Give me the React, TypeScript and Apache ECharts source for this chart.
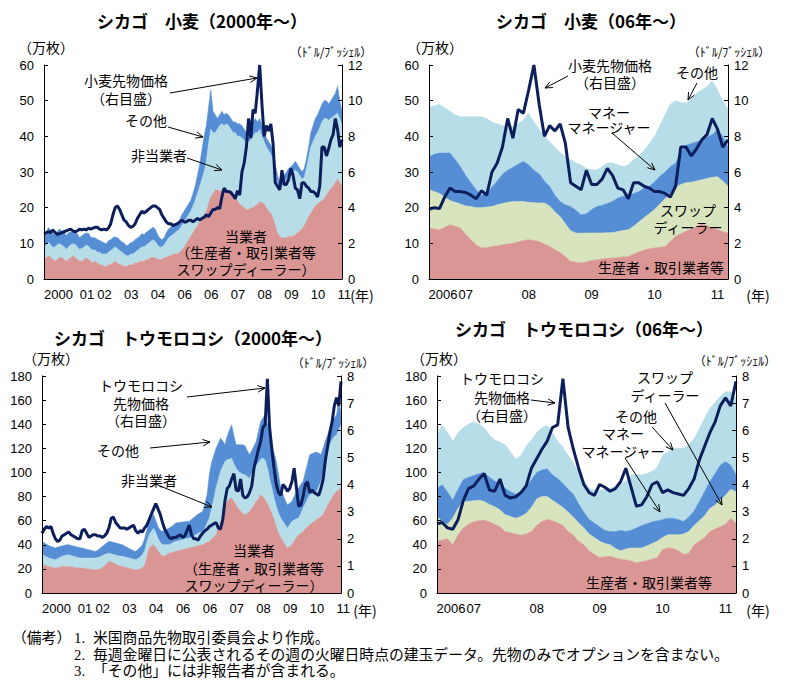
import React, { useEffect, useRef } from "react";
import * as echarts from "echarts";

// ---------- categories ----------
const monthRange = (y0: number, m0: number, y1: number, m1: number): string[] => {
  const out: string[] = [];
  let y = y0, m = m0;
  while (y < y1 || (y === y1 && m <= m1)) {
    out.push(`${y}-${String(m).padStart(2, "0")}`);
    m++;
    if (m > 12) { m = 1; y++; }
  }
  return out;
};
const months2000 = monthRange(2000, 1, 2011, 3);
const months06 = monthRange(2006, 6, 2011, 3);
const START06 = months2000.indexOf("2006-06");

// x tick labels (as printed in the source)
const yearLabels2000 = ["2000", "01", "02", "03", "04", "06", "06", "07", "08", "09", "10", "11"];
const yearLabels06 = ["2006", "07", "08", "09", "10", "11"];

// ---------- prices (ドル/ブッシェル), monthly 2000-01 .. 2011-03 ----------
const wheatPrice = [
  2.55, 2.6, 2.65, 2.6, 2.75, 2.6, 2.5, 2.55, 2.6, 2.65, 2.7, 2.75,
  2.8, 2.7, 2.65, 2.7, 2.8, 2.75, 2.8, 2.75, 2.85, 2.8, 2.85, 2.9,
  2.9, 2.8, 2.75, 2.8, 2.75, 2.85, 3.1, 3.6, 4.0, 4.1, 3.9, 3.6,
  3.3, 3.2, 3.0, 2.9, 2.95, 3.1, 3.4, 3.6, 3.8, 3.7, 3.8, 3.9,
  4.0, 4.1, 4.1, 4.0, 3.9, 3.6, 3.4, 3.2, 3.1, 3.1, 3.0, 3.05,
  3.1, 3.2, 3.3, 3.2, 3.2, 3.3, 3.3, 3.2, 3.3, 3.4, 3.3, 3.4,
  3.45, 3.6, 3.5, 3.7, 3.9, 3.9, 4.0, 3.95, 4.6, 5.1, 4.9, 4.9,
  4.85, 4.7, 4.5, 4.95, 4.7, 6.0, 6.5, 7.4, 9.0, 7.9, 9.5, 9.3,
  10.6, 12.0, 9.8, 8.0, 8.6, 8.3, 8.7, 7.6, 5.4, 5.2, 5.0, 6.1,
  5.3, 5.3, 5.6, 6.2, 5.8, 5.1, 5.0, 4.5, 5.4, 5.4, 5.2, 5.1,
  4.9, 4.9, 4.8, 4.6, 5.2, 7.4, 7.4, 6.9, 7.3, 7.8, 8.1, 9.0,
  8.4, 7.4, 7.8,
];
const cornPrice = [
  2.2, 2.35, 2.45, 2.4, 2.45, 2.2, 2.0, 1.9, 1.95, 2.1, 2.15, 2.2,
  2.25, 2.15, 2.1, 2.05, 2.0, 2.0, 2.3, 2.35, 2.2, 2.05, 2.1, 2.15,
  2.15, 2.1, 2.1, 2.05, 2.1, 2.2, 2.4, 2.75, 2.8, 2.6, 2.5, 2.4,
  2.4, 2.4, 2.35, 2.4, 2.45, 2.5, 2.3, 2.2, 2.3, 2.25, 2.4, 2.5,
  2.7, 2.9, 3.1, 3.3, 3.1, 2.9, 2.6, 2.35, 2.2, 2.05, 2.0, 2.05,
  2.05, 2.1, 2.15, 2.05, 2.1, 2.3, 2.5, 2.15, 2.0, 2.0, 1.95, 2.1,
  2.2, 2.3, 2.35, 2.45, 2.5, 2.55, 2.6, 2.4, 2.35, 2.7, 3.4, 3.85,
  3.95, 4.2, 4.4, 3.8, 3.75, 4.2, 3.6, 3.5, 3.55, 3.7, 3.95, 4.6,
  4.95, 5.3, 5.6, 6.1, 6.2, 7.9, 6.1, 5.3, 4.6, 4.0, 3.7, 3.6,
  4.0, 3.9, 3.75, 3.85, 4.1, 4.6, 3.9, 3.2, 3.25, 3.55, 4.0, 4.1,
  3.7, 3.8, 3.7, 3.65, 3.6, 3.85, 4.2, 4.9, 5.4, 5.9, 6.3, 6.9,
  7.2, 6.9, 7.8,
];

// ---------- wheat open interest (万枚), 2000 panel ----------
const wheatCommercial2000 = [
  5.5, 6, 6.5, 6, 5.5, 5, 5.5, 6, 6, 5.5, 5, 5.5,
  6, 6.5, 6, 5.5, 5, 5, 5.5, 6, 5.5, 5, 4.5, 5,
  4.5, 4, 4, 3.5, 3.5, 4, 4, 4.5, 5, 4.5, 4, 4,
  3.5, 3.5, 4, 4, 4, 4.5, 4.5, 5, 5, 5, 5.5, 5.5,
  6, 6, 6, 5.5, 5.5, 5.5, 6, 6, 6.5, 6.5, 7, 7,
  7, 7.5, 8, 9, 10, 11, 12, 13, 14, 15, 16, 17,
  18, 19, 21, 23, 24, 25, 25, 24.5, 25, 25.5, 25, 24.5,
  25, 24, 23, 22, 21, 20.5, 20, 19.5, 19.5, 20, 20, 20.5,
  21, 21.5, 21.5, 21, 20, 19, 18.5, 17, 15, 13, 12, 11.5,
  11.5, 11.5, 12, 12, 12, 12.5, 13, 13.5, 14, 15, 16, 17.5,
  18.5, 19.5, 20.5, 21, 21.5, 22, 22.5, 23.5, 24.5, 25.5, 26, 27,
  28, 27, 26,
];
const wheatNonCommercial2000 = [
  3.4, 3.6, 3.8, 3.5, 3.3, 4, 4.2, 3.9, 3.5, 3.6, 3.3, 3.5,
  3.6, 3.4, 3.7, 3.5, 3.3, 3.6, 3.4, 3.5, 3.7, 3.4, 3.6, 3.1,
  3, 3.5, 3, 3.5, 3.5, 3.5, 4, 4, 4, 4, 4, 3.5,
  3.5, 3, 2.5, 3, 3, 3, 3.5, 3.5, 4, 4, 4, 4.5,
  4.5, 5, 4.5, 4, 3.5, 3.5, 3.5, 4.5, 5, 5.5, 5.5, 6,
  6.5, 6.5, 7, 7, 7, 7, 7, 7.5, 8, 9, 10, 11,
  12, 14, 17, 19, 17, 16, 17, 18.5, 18.5, 17.5, 18.5, 18.5,
  17, 17, 18, 18, 19, 19, 19, 18.5, 19, 19, 20, 20.5,
  20, 20.5, 18.5, 17.5, 17, 17, 16.5, 16, 15, 14, 13, 14.5,
  15.5, 16.5, 17, 17.5, 18, 18, 17, 15.5, 14, 13.5, 15, 16.5,
  18.5, 19, 19.5, 20, 21, 22, 22.5, 21.5, 20, 19.5, 19.5, 19,
  18.5, 18, 17,
];
const wheatOther2000 = [
  3.6, 3.3, 4.1, 4.2, 3.8, 3.5, 3.7, 4.1, 3.9, 4.2, 3.8, 4,
  3.5, 3.8, 3.4, 3.6, 3.3, 3.5, 3.7, 3.4, 3.6, 3.3, 3.5, 3.4,
  3.6, 3.3, 3.5, 3.1, 2.9, 3.2, 3, 3.1, 2.8, 3.1, 3, 2.9,
  3.1, 2.8, 3, 3.2, 3.4, 3.6, 3.4, 3.5, 3.7, 3.4, 3.6, 3.5,
  3.5, 3.5, 3.5, 3, 2.5, 2, 2, 2.5, 2.5, 2.5, 2.5, 2,
  2, 2.5, 3, 3, 3, 3, 3, 3.5, 4, 5, 6, 8,
  10, 10, 10, 11, 6, 5, 3, 3, 3.5, 3, 3, 3,
  3, 3, 3, 3.5, 3.5, 3.5, 3, 3, 3.5, 4, 4, 4,
  3, 3, 3, 2.5, 2.5, 2.5, 2.5, 2.5, 2, 2, 2, 2,
  2, 2, 2, 2, 2, 2.5, 2, 2, 2, 2.5, 2.5, 3,
  4, 4.5, 5, 5, 5, 5, 5, 5, 4.5, 5, 5.5, 6,
  7.5, 5, 4,
];

// ---------- wheat open interest (万枚), 06 panel, 2006-06 .. 2011-03 ----------
const wheatProducer06 = [
  14.3, 14, 13.8, 14.5, 15.2, 14.8, 14.3,
  12.5, 11, 9.5, 8.7, 8.8, 9.1, 9.3, 9.6, 9.8, 10, 10.4, 10.8,
  11, 10.8, 10.5, 9.8, 9.2, 8.2, 7.4, 6.3, 5, 4.7, 4.5, 4.8,
  5.2, 5.4, 5.6, 5.8, 5.9, 6, 6.2, 6.3, 7, 7.6, 8.1, 8.5,
  8.7, 8.9, 9.1, 10.5, 12, 12.7, 13.4, 14, 14.7, 15.5, 15, 14.2,
  13.8, 13.3, 12.9,
];
const wheatSwap06 = [
  10.7, 10.5, 10.2, 8.5, 6.8, 6.7, 6.7,
  8, 9.3, 10.5, 11.3, 11.4, 11.2, 11.5, 11.6, 11.7, 11.7, 11.3, 10.9,
  10.5, 10.6, 10.8, 11.5, 11.3, 10.6, 10.1, 9.2, 8.5, 8.2, 8.3, 8.1,
  7.7, 7.5, 7.3, 7.2, 7.1, 7.3, 7.4, 7.5, 7.8, 8.4, 9.1, 9.8,
  10.8, 12.1, 13.4, 13.5, 13.7, 13.8, 13.6, 13.1, 12.8, 12.3, 13.2, 14.3,
  14.9, 14.2, 13.1,
];
const wheatManaged06 = [
  9.3, 10.5, 11.3, 12.3, 13.3, 12, 10.5,
  8.5, 6.7, 5, 3.5, 3.8, 5.5, 6.7, 8.2, 9, 9.6, 10.5, 11.3,
  10.5, 9.1, 8.2, 6.2, 5.5, 4.7, 4.2, 5.3, 6.8, 6.4, 5.2, 5.4,
  6.6, 7.4, 7.8, 8.2, 8.8, 9.4, 9.6, 9.8, 9.2, 8.5, 8.3, 7.7,
  7.7, 7.8, 7.5, 7.5, 6.8, 9, 10.5, 10.9, 11, 11.2, 11.6, 12,
  13.3, 12.5, 11,
];
const wheatOther06 = [
  14, 13.5, 13.7, 12.7, 11.7, 12.5, 14,
  16.5, 18.5, 20.5, 22, 21, 18.2, 16, 13.6, 12.2, 11.4, 11.3, 11.6,
  14.5, 13.5, 12.5, 12.5, 12.5, 13.5, 13.8, 13.5, 13.2, 13.2, 14, 12.7,
  11.1, 10.3, 10.8, 11.3, 10.7, 9.3, 8.3, 8.4, 9.5, 10, 10.5, 12,
  12.8, 14.2, 16, 17.5, 17.5, 14, 11.8, 12.5, 13.5, 14, 14.2, 15,
  11, 10, 10.4,
];

// ---------- corn open interest (万枚), 2000 panel ----------
const cornCommercial2000 = [
  23.5, 23, 22.5, 22, 21.5, 21, 20.7, 21, 21.5, 22, 22, 22,
  22, 21.5, 21.5, 21, 21, 20.7, 20.7, 20.5, 20, 20, 19.5, 19.5,
  19.3, 19.5, 20, 21, 22.5, 24, 26.2, 26, 25, 24, 23, 22.5,
  22, 21.5, 21, 20.5, 20, 19.5, 19.3, 19.5, 20, 20.7, 23, 30,
  37.3, 39, 40, 38, 35, 32.5, 30.4, 31, 32, 33, 33.5, 34,
  34.5, 35, 35.5, 36, 36.5, 37, 37.3, 37.8, 38.3, 38.8, 39.2, 39.6,
  40, 41, 42, 42.8, 45, 46.5, 48.3, 54, 59.4, 66, 73, 76,
  78, 78.7, 76, 73, 70, 68, 66, 65, 66, 67.6, 70, 73,
  76, 78, 81.4, 80, 77.3, 74, 70, 66, 61, 55, 50, 46,
  43, 40, 37.3, 38.5, 40, 43, 46, 48.3, 49.5, 51, 53, 55,
  56.6, 58, 59.5, 60.7, 62, 63.5, 65, 69, 72.5, 76, 79, 82,
  84.2, 85.5, 87,
];
const cornNonCommercial2000 = [
  8.2, 8, 7.5, 7, 7, 7, 6.9, 7.5, 8, 8.5, 9, 9.5,
  9.7, 9.5, 9, 9, 8.5, 8.3, 8.3, 8.5, 9, 9, 9.5, 9.5,
  9.7, 10, 10, 10, 9.5, 8.5, 6.8, 6.5, 7, 7.5, 8, 8.2,
  8.4, 8.5, 8.5, 8.5, 8.5, 8.5, 8.3, 9, 10, 11, 12, 12,
  11, 12, 13.8, 12, 10, 9.5, 9.6, 9, 8, 7, 7.5, 8,
  8.3, 8.3, 8.3, 8.3, 8.3, 8.2, 8.3, 8.7, 9.2, 9.7, 10.3, 10.7,
  11, 13, 16, 19.2, 25, 31.5, 38.7, 40, 41.4, 39, 36, 34.5,
  33, 33.1, 31, 30.5, 31, 31.5, 32.5, 33, 30.5, 27.4, 29, 29.5,
  30, 30, 29.6, 32, 32.7, 30, 25, 21, 18, 17, 16, 16,
  16.4, 16.5, 16.5, 18, 19.4, 17.5, 15.5, 13.7, 16.5, 19.4, 21, 23,
  24.8, 24.3, 23.7, 23.5, 26, 29, 35, 40, 43.5, 47, 48, 48,
  46.8, 49.5, 52.4,
];
const cornOther2000 = [
  11.1, 10.5, 10.5, 10.5, 10, 10, 9.7, 9.5, 9, 8.5, 8.5, 8.5,
  8.3, 8.5, 8.5, 8.5, 8.5, 8.5, 8.3, 7.8, 7.3, 6.8, 6.3, 5.8,
  5.5, 6, 7, 7.5, 8, 9, 9.8, 10, 10, 10, 10, 9.8,
  9.6, 9, 8.5, 8, 7.5, 7, 6.9, 7.5, 8, 8.3, 10, 10,
  11.1, 11, 11.2, 10, 10, 10, 11, 12, 13, 13.8, 14, 14.5,
  15.2, 15, 14.8, 14.6, 14.4, 14.2, 13.8, 14.5, 15, 15.5, 16, 16.2,
  16.6, 20, 23.4, 36, 38, 36, 33, 30, 27.6, 21, 14, 19.5,
  24, 27.6, 23, 19.5, 22, 23.5, 24.5, 24, 21.5, 19.6, 19, 19.5,
  19.6, 26, 31, 33, 37.7, 36, 36, 37, 37, 37, 32, 25,
  22, 20.5, 19.2, 18, 16.6, 19.5, 22.5, 25, 24, 22.1, 26, 29,
  33.2, 33.2, 33.1, 32.8, 28, 22.1, 20, 17, 15, 14, 15, 15,
  16.7, 23.7, 10.6,
];

// ---------- corn open interest (万枚), 06 panel ----------
const cornProducer06 = [
  42.8, 44, 45, 40, 48, 54, 57,
  59, 60, 60.5, 59, 57, 55, 51, 50, 49, 48, 49, 51,
  56, 59.5, 61, 60, 58, 56, 51, 48, 43, 40, 35, 32,
  29.5, 30, 30.4, 29, 28, 27.5, 26.5, 25, 26, 27, 28, 29.5,
  36, 37.3, 37, 35, 32, 33, 40, 43, 46, 51, 53, 55,
  57, 62, 58,
];
const cornSwap06 = [
  20.7, 15, 12, 22, 22, 22, 19,
  17.5, 17, 15.5, 14.5, 14.5, 14, 14, 13.5, 13, 15.5, 17, 20,
  22, 20.5, 19, 17, 16, 15, 16, 15, 15, 14, 14, 14,
  13.5, 11, 9.6, 8, 7, 9, 10.8, 12.3, 11.3, 12, 13, 13.5,
  10, 11, 11.3, 13.3, 17, 18, 16, 17, 18, 19, 20, 22,
  24, 24, 26,
];
const cornManaged06 = [
  23.5, 30.7, 27, 15, 16, 18, 20,
  21, 22, 24, 22.5, 21.5, 22, 22, 20.5, 20, 20.5, 22, 23,
  22, 22, 23, 21, 21, 20, 19, 19, 16, 13, 12, 12,
  12, 11, 11, 14, 17, 14.5, 14.7, 16.7, 18.7, 18.5, 18, 17,
  15, 13.7, 13.7, 12.7, 10.4, 12, 12, 16, 20, 22.5, 26, 29,
  28, 20, 14,
];
const cornOther06 = [
  44, 49.3, 49, 49, 47, 43, 44,
  44.5, 41, 37, 35, 34, 34, 36, 33, 29, 30, 34, 33,
  33, 35, 36, 35, 31, 30, 28, 26, 26, 26, 26, 27,
  30, 34, 36, 37, 37.7, 42, 46, 44, 42, 41.5, 42, 44,
  53, 55, 58, 59, 60.6, 60, 60, 60, 61, 60.5, 59, 57,
  58, 61, 63.5,
];

// ---------- styling ----------
const FJ = '"Noto Sans CJK JP", "Noto Sans", sans-serif';
const FN = '"Liberation Sans", Arial, sans-serif';
const FS = '"Liberation Serif", "Noto Sans CJK JP", serif';
const RED = "#d99694";
const LBLUE = "#b7dee8";
const MBLUE = "#558ed5";
const GREEN = "#d7e4bd";
const NAVY = "#0c1f5c";

const T = (
  text: string,
  x: number,
  y: number,
  size = 14,
  weight = "normal",
  align = "center",
  family = FJ,
  lineHeight?: number
) => ({
  type: "text",
  x,
  y,
  z: 100,
  silent: true,
  style: {
    text,
    fill: "#000",
    font: `${weight} ${size}px ${family}`,
    align,
    verticalAlign: "middle",
    textAlign: align,
    textVerticalAlign: "middle",
    ...(lineHeight ? { lineHeight } : {}),
  },
});
const M = (text: string, x: number, y: number, lineHeight: number, size = 14) =>
  T(text, x, y, size, "normal", "center", FJ, lineHeight);

const arrow = (x1: number, y1: number, x2: number, y2: number) => {
  const a = Math.atan2(y2 - y1, x2 - x1);
  const L = 8, w = 0.42;
  const p1 = [x2 - L * Math.cos(a - w), y2 - L * Math.sin(a - w)];
  const p2 = [x2 - L * Math.cos(a + w), y2 - L * Math.sin(a + w)];
  return [
    { type: "line", z: 100, silent: true, shape: { x1, y1, x2, y2 }, style: { stroke: "#000", lineWidth: 1 } },
    { type: "polyline", z: 100, silent: true, shape: { points: [p1, [x2, y2], p2] }, style: { stroke: "#000", lineWidth: 1, fill: null } },
  ];
};

const xAxis2000 = (gi: number) => ({
  type: "category",
  gridIndex: gi,
  data: months2000,
  boundaryGap: false,
  z: 10,
  axisLine: { show: true, lineStyle: { color: "#000", width: 1 } },
  axisTick: { show: false },
  splitLine: { show: false },
  axisLabel: {
    interval: 0,
    align: "left",
    margin: 9,
    color: "#000",
    fontSize: 13,
    fontFamily: FN,
    formatter: (v: string) => {
      if (!v.endsWith("-01")) return "";
      const y = Number(v.slice(0, 4));
      const t = yearLabels2000[y - 2000];
      return y === 2001 ? `{p|${t}}` : t;
    },
    rich: { p: { padding: [0, 0, 0, 9], fontSize: 13, fontFamily: FN, color: "#000" } },
  },
});

const xAxis06 = (gi: number) => ({
  type: "category",
  gridIndex: gi,
  data: months06,
  boundaryGap: false,
  z: 10,
  axisLine: { show: true, lineStyle: { color: "#000", width: 1 } },
  axisTick: { show: false },
  splitLine: { show: false },
  axisLabel: {
    interval: 0,
    margin: 9,
    color: "#000",
    fontSize: 13,
    fontFamily: FN,
    formatter: (v: string, i: number) => {
      if (i === 0) return `{s|${yearLabels06[0]}}`;
      if (!v.endsWith("-01")) return "";
      return yearLabels06[Number(v.slice(0, 4)) - 2006];
    },
    rich: { s: { padding: [0, 0, 0, 28], fontSize: 13, fontFamily: FN, color: "#000" } },
  },
});

const yAxis = (gi: number, max: number, interval: number, pos: "left" | "right") => ({
  type: "value",
  gridIndex: gi,
  position: pos,
  min: 0,
  max,
  interval,
  z: 10,
  axisLine: { show: true, lineStyle: { color: "#000", width: 1 } },
  axisTick: { show: true, inside: true, length: 4, lineStyle: { color: "#000" } },
  splitLine: { show: false },
  axisLabel: { margin: pos === "left" ? 10 : 6, color: "#000", fontSize: 13, fontFamily: FN },
});

const area = (name: string, data: number[], color: string, xi: number, yi: number, stack: string) => ({
  type: "line",
  name,
  data,
  xAxisIndex: xi,
  yAxisIndex: yi,
  stack,
  symbol: "none",
  showSymbol: false,
  silent: true,
  lineStyle: { width: 0.6, color },
  areaStyle: { color, opacity: 1 },
  z: 2,
});

const priceLine = (name: string, data: number[], xi: number, yi: number) => ({
  type: "line",
  name,
  data,
  xAxisIndex: xi,
  yAxisIndex: yi,
  symbol: "none",
  showSymbol: false,
  silent: true,
  lineStyle: { color: NAVY, width: 3 },
  z: 3,
});

const buildOption = () => ({
  animation: false,
  backgroundColor: "#fff",
  grid: [
    { left: 44, top: 65, width: 298, height: 214 },
    { left: 429, top: 65, width: 299, height: 214 },
    { left: 42, top: 376, width: 299, height: 217 },
    { left: 437, top: 376, width: 299, height: 217 },
  ],
  xAxis: [xAxis2000(0), xAxis06(1), xAxis2000(2), xAxis06(3)],
  yAxis: [
    yAxis(0, 60, 10, "left"),
    yAxis(0, 12, 2, "right"),
    yAxis(1, 60, 10, "left"),
    yAxis(1, 12, 2, "right"),
    yAxis(2, 180, 20, "left"),
    yAxis(2, 8, 1, "right"),
    yAxis(3, 180, 20, "left"),
    yAxis(3, 8, 1, "right"),
  ],
  series: [
    area("当業者", wheatCommercial2000, RED, 0, 0, "w00"),
    area("非当業者", wheatNonCommercial2000, LBLUE, 0, 0, "w00"),
    area("その他", wheatOther2000, MBLUE, 0, 0, "w00"),
    priceLine("小麦先物価格", wheatPrice, 0, 1),

    area("生産者・取引業者等", wheatProducer06, RED, 1, 2, "w06"),
    area("スワップディーラー", wheatSwap06, GREEN, 1, 2, "w06"),
    area("マネーマネージャー", wheatManaged06, MBLUE, 1, 2, "w06"),
    area("その他", wheatOther06, LBLUE, 1, 2, "w06"),
    priceLine("小麦先物価格", wheatPrice.slice(START06), 1, 3),

    area("当業者", cornCommercial2000, RED, 2, 4, "c00"),
    area("非当業者", cornNonCommercial2000, LBLUE, 2, 4, "c00"),
    area("その他", cornOther2000, MBLUE, 2, 4, "c00"),
    priceLine("トウモロコシ先物価格", cornPrice, 2, 5),

    area("生産者・取引業者等", cornProducer06, RED, 3, 6, "c06"),
    area("スワップディーラー", cornSwap06, GREEN, 3, 6, "c06"),
    area("マネーマネージャー", cornManaged06, MBLUE, 3, 6, "c06"),
    area("その他", cornOther06, LBLUE, 3, 6, "c06"),
    priceLine("トウモロコシ先物価格", cornPrice.slice(START06), 3, 7),
  ],
  graphic: {
    elements: [
      // titles
      T("シカゴ　小麦（2000年～）", 202, 20, 17, "bold"),
      T("シカゴ　小麦（06年～）", 591, 20, 17, "bold"),
      T("シカゴ　トウモロコシ（2000年～）", 193, 337, 17, "bold"),
      T("シカゴ　トウモロコシ（06年～）", 584, 328, 17, "bold"),
      // units
      T("（万枚）", 46, 47, 14),
      T("（ﾄﾞﾙ/ﾌﾞｯｼｪﾙ）", 331, 51, 12),
      T("（万枚）", 435, 47, 14),
      T("（ﾄﾞﾙ/ﾌﾞｯｼｪﾙ）", 729, 51, 12),
      T("（万枚）", 51, 358, 14),
      T("（ﾄﾞﾙ/ﾌﾞｯｼｪﾙ）", 333, 362, 12),
      T("（万枚）", 439, 358, 14),
      T("（ﾄﾞﾙ/ﾌﾞｯｼｪﾙ）", 735, 360, 12),
      T("(年)", 362, 295, 14),
      T("(年)", 758, 295, 14),
      T("(年)", 365, 610, 14),
      T("(年)", 758, 610, 14),

      // TL annotations
      M("小麦先物価格\n（右目盛）", 126, 89, 18),
      ...arrow(170, 93, 257, 78),
      T("その他", 146, 120),
      ...arrow(168, 127, 203, 137),
      T("非当業者", 159, 155),
      ...arrow(187, 158, 222, 170),
      M("当業者\n（生産者・取引業者等\nスワップディーラー）", 246, 252, 16.5),

      // TR annotations
      M("小麦先物価格\n（右目盛）", 610, 73.5, 17),
      ...arrow(568, 76, 545, 88),
      T("その他", 697, 72),
      ...arrow(697, 83, 688, 100),
      M("マネー\nマネージャー", 609, 119.5, 15.5),
      ...arrow(612, 133, 655, 170),
      M("スワップ\nディーラー", 688, 218.5, 17),
      T("生産者・取引業者等", 661, 267),

      // BL annotations
      M("トウモロコシ\n先物価格\n（右目盛）", 141, 402.5, 17.5),
      ...arrow(187, 397, 265, 388),
      T("その他", 118, 450),
      ...arrow(150, 448, 210, 442),
      T("非当業者", 149, 480),
      ...arrow(160, 486, 212, 507),
      M("当業者\n（生産者・取引業者等\nスワップディーラー）", 254, 567.5, 17.5),

      // BR annotations
      M("トウモロコシ\n先物価格\n（右目盛）", 502, 396.5, 18.5),
      ...arrow(531, 400, 555, 403),
      M("スワップ\nディーラー", 665, 386, 18),
      ...arrow(665, 403, 722, 505),
      T("その他", 636, 416),
      ...arrow(652, 427, 673, 450),
      M("マネー\nマネージャー", 623, 442, 18),
      ...arrow(625, 458, 660, 512),
      T("生産者・取引業者等", 649, 582),

      // notes
      T("（備考）", 12, 638, 14.8, "normal", "left", FS),
      T("1.", 74, 638, 14.8, "normal", "left", FS),
      T("米国商品先物取引委員会より作成。", 93, 638, 14.8, "normal", "left", FS),
      T("2.", 74, 655, 14.8, "normal", "left", FS),
      T("毎週金曜日に公表されるその週の火曜日時点の建玉データ。先物のみでオプションを含まない。", 93, 655, 14.8, "normal", "left", FS),
      T("3.", 74, 671, 14.8, "normal", "left", FS),
      T("「その他」には非報告者が含まれる。", 93, 671, 14.8, "normal", "left", FS),
    ],
  },
});

export default function App() {
  const ref = useRef<HTMLDivElement>(null);
  useEffect(() => {
    if (!ref.current) return;
    const chart = echarts.init(ref.current, undefined, { renderer: "svg" });
    chart.setOption(buildOption() as any);
    return () => chart.dispose();
  }, []);
  return (
    <div
      ref={ref}
      style={{ position: "fixed", left: 0, top: 0, width: 789, height: 687, background: "#fff" }}
    />
  );
}
